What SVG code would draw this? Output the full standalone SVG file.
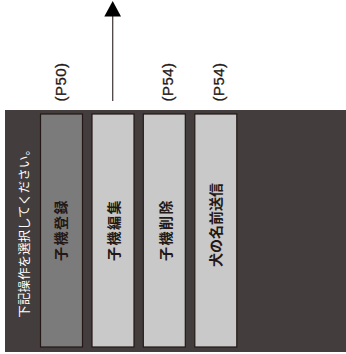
<svg xmlns="http://www.w3.org/2000/svg" width="346" height="354" viewBox="0 0 346 354">
<style>
.box{stroke:#231815;stroke-width:1.2}
.lbl{font-family:"Noto Sans CJK JP","Liberation Sans",sans-serif;font-size:14px;font-weight:bold;fill:#231815;text-anchor:middle;dominant-baseline:central}
.pg{font-family:"Liberation Sans",Arial,sans-serif;font-size:15px;fill:#231815;text-anchor:middle;dominant-baseline:central;letter-spacing:0.5px;stroke:#231815;stroke-width:0.3}
.ins{font-family:"Noto Sans CJK JP","Liberation Sans",sans-serif;font-size:12.5px;fill:#ffffff;text-anchor:middle;dominant-baseline:central}
</style>
<rect id="panel" x="5" y="110" width="341" height="242" fill="#433e3d"/>
<g id="instruction"><text class="ins" transform="translate(23,230.5) rotate(-90)">下記操作を選択してください。</text></g>
<g id="node-register">
<rect class="box" x="40.5" y="114" width="42" height="233" fill="#7b7b7b"/>
<text class="lbl" letter-spacing="1.5" transform="translate(59.5,230) rotate(-90)">子機登録</text>
</g>
<g id="node-edit">
<rect class="box" x="92" y="114" width="42" height="233" fill="#c9c9ca"/>
<text class="lbl" letter-spacing="1.5" transform="translate(113,230) rotate(-90)">子機編集</text>
</g>
<g id="node-delete">
<rect class="box" x="143.3" y="114" width="42" height="233" fill="#c9c9ca"/>
<text class="lbl" letter-spacing="1.5" transform="translate(164.5,230) rotate(-90)">子機削除</text>
</g>
<g id="node-send">
<rect class="box" x="194.8" y="114" width="42" height="233" fill="#c9c9ca"/>
<text class="lbl" transform="translate(214.5,225) rotate(-90)">犬の名前送信</text>
</g>
<g id="page-labels">
<text class="pg" transform="translate(60.5,82) rotate(-90)">(P50)</text>
<text class="pg" transform="translate(167,82) rotate(-90)">(P54)</text>
<text class="pg" transform="translate(218.5,82) rotate(-90)">(P54)</text>
</g>
<g id="connectors">
<line x1="112.7" y1="15" x2="112.7" y2="101" stroke="#4a4343" stroke-width="1.3"/>
<polygon points="104.3,16.5 121,16.5 112.7,1" fill="#000000"/>
</g>
</svg>
